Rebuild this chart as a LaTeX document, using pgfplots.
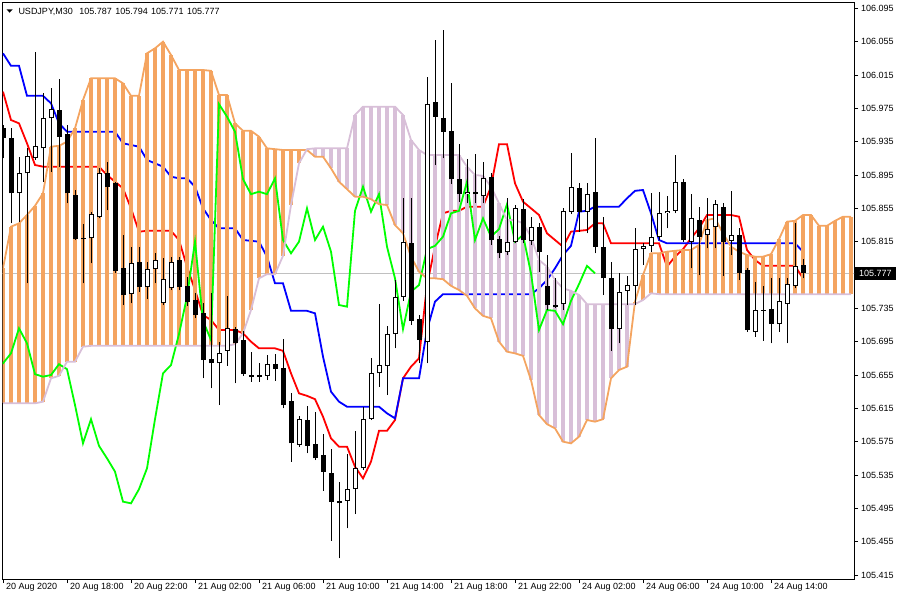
\documentclass[border=0pt]{standalone}
\usepackage{pgfplots}
\pgfplotsset{compat=1.18}
\usepackage{pgfplotstable}
\usepackage{fontspec}
\setmainfont{Liberation Sans}

\definecolor{sandy}{HTML}{F4A460}
\definecolor{thist}{HTML}{D8BFD8}
\definecolor{chikou}{HTML}{00FF00}
\definecolor{tenkan}{HTML}{FF0000}
\definecolor{kijun}{HTML}{0000FF}
\definecolor{pricegray}{HTML}{C0C0C0}

% USDJPY M30 candles, bar index k (0 = 20 Aug 14:00)
\pgfplotstableread{
k o h l c
0 105.951 105.955 105.915 105.939
1 105.939 105.951 105.837 105.873
2 105.873 105.917 105.839 105.897
3 105.897 105.927 105.765 105.918
4 105.915 106.043 105.913 105.930
5 105.927 105.993 105.887 105.963
6 105.963 105.999 105.899 105.974
7 105.973 106.010 105.905 105.941
8 105.944 105.955 105.861 105.873
9 105.871 105.877 105.817 105.818
10 105.819 105.836 105.765 105.818
11 105.819 105.851 105.789 105.848
12 105.845 105.903 105.843 105.897
13 105.897 105.911 105.853 105.881
14 105.885 105.887 105.777 105.780
15 105.783 105.823 105.739 105.751
16 105.752 105.809 105.741 105.789
17 105.791 105.809 105.755 105.761
18 105.761 105.791 105.746 105.782
19 105.782 105.801 105.765 105.793
20 105.741 105.795 105.739 105.770
21 105.759 105.797 105.757 105.791
22 105.793 105.797 105.757 105.761
23 105.762 105.773 105.738 105.743
24 105.745 105.753 105.723 105.727
25 105.729 105.741 105.651 105.673
26 105.674 105.753 105.639 105.669
27 105.669 105.695 105.619 105.681
28 105.684 105.750 105.666 105.711
29 105.710 105.713 105.645 105.693
30 105.697 105.708 105.654 105.656
31 105.655 105.683 105.647 105.653
32 105.653 105.669 105.647 105.655
33 105.654 105.679 105.649 105.668
34 105.668 105.680 105.648 105.662
35 105.663 105.698 105.615 105.619
36 105.624 105.633 105.551 105.573
37 105.571 105.606 105.569 105.602
38 105.601 105.618 105.561 105.570
39 105.572 105.611 105.553 105.555
40 105.559 105.584 105.516 105.539
41 105.537 105.566 105.456 105.503
42 105.504 105.527 105.435 105.501
43 105.504 105.560 105.471 105.518
44 105.518 105.588 105.488 105.543
45 105.543 105.617 105.541 105.602
46 105.602 105.675 105.601 105.657
47 105.657 105.740 105.641 105.667
48 105.666 105.714 105.631 105.704
49 105.704 105.769 105.687 105.749
50 105.749 105.867 105.744 105.815
51 105.813 105.867 105.715 105.720
52 105.722 105.727 105.669 105.697
53 105.695 106.013 105.669 105.980
54 105.983 106.057 105.907 105.965
55 105.963 106.069 105.915 105.947
56 105.948 106.005 105.884 105.890
57 105.890 105.932 105.863 105.872
58 105.872 105.914 105.861 105.875
59 105.875 105.920 105.861 105.872
60 105.870 105.911 105.861 105.891
61 105.893 105.897 105.811 105.817
62 105.818 105.822 105.795 105.801
63 105.803 105.867 105.799 105.815
64 105.815 105.859 105.813 105.855
65 105.854 105.866 105.813 105.817
66 105.816 105.845 105.811 105.833
67 105.833 105.837 105.779 105.803
68 105.762 105.799 105.733 105.739
69 105.739 105.771 105.735 105.737
70 105.740 105.855 105.733 105.852
71 105.851 105.921 105.848 105.881
72 105.879 105.885 105.827 105.851
73 105.851 105.885 105.825 105.872
74 105.875 105.939 105.801 105.809
75 105.809 105.845 105.751 105.771
76 105.771 105.791 105.684 105.710
77 105.710 105.777 105.693 105.755
78 105.756 105.774 105.739 105.763
79 105.762 105.831 105.739 105.806
80 105.806 105.813 105.787 105.810
81 105.810 105.873 105.803 105.821
82 105.821 105.875 105.817 105.849
83 105.849 105.870 105.831 105.852
84 105.852 105.919 105.849 105.887
85 105.887 105.890 105.815 105.817
86 105.815 105.872 105.783 105.843
87 105.841 105.857 105.775 105.821
88 105.823 105.867 105.807 105.830
89 105.833 105.865 105.807 105.860
90 105.857 105.861 105.774 105.815
91 105.816 105.876 105.799 105.823
92 105.823 105.831 105.769 105.777
93 105.781 105.783 105.707 105.709
94 105.707 105.767 105.701 105.733
95 105.733 105.762 105.696 105.732
96 105.734 105.771 105.693 105.716
97 105.716 105.771 105.707 105.744
98 105.740 105.771 105.693 105.764
99 105.762 105.837 105.759 105.786
100 105.787 105.794 105.771 105.777
}\candles

% tenkan-sen (t) and kijun-sen (j)
\pgfplotstableread{
k t j
0 105.995 106.041
1 105.961 106.026
2 105.957 106.026
3 105.933 105.990
4 105.907 105.990
5 105.905 105.990
6 105.905 105.981
7 105.905 105.957
8 105.905 105.947
9 105.905 105.947
10 105.905 105.947
11 105.905 105.947
12 105.905 105.947
13 105.895 105.947
14 105.887 105.947
15 105.879 105.933
16 105.855 105.931
17 105.827 105.929
18 105.828 105.913
19 105.828 105.909
20 105.828 105.905
21 105.828 105.893
22 105.817 105.891
23 105.785 105.891
24 105.757 105.881
25 105.727 105.855
26 105.721 105.841
27 105.709 105.831
28 105.709 105.831
29 105.709 105.831
30 105.705 105.817
31 105.695 105.816
32 105.687 105.815
33 105.687 105.797
34 105.687 105.765
35 105.684 105.765
36 105.657 105.732
37 105.633 105.732
38 105.630 105.732
39 105.626 105.729
40 105.605 105.677
41 105.579 105.635
42 105.569 105.623
43 105.569 105.617
44 105.545 105.617
45 105.531 105.617
46 105.551 105.617
47 105.588 105.617
48 105.588 105.609
49 105.601 105.603
50 105.651 105.651
51 105.665 105.651
52 105.675 105.651
53 105.763 105.709
54 105.809 105.743
55 105.849 105.752
56 105.852 105.752
57 105.852 105.752
58 105.857 105.752
59 105.857 105.752
60 105.857 105.752
61 105.881 105.752
62 105.932 105.752
63 105.932 105.752
64 105.885 105.752
65 105.863 105.752
66 105.855 105.752
67 105.847 105.759
68 105.825 105.769
69 105.817 105.783
70 105.809 105.799
71 105.827 105.810
72 105.828 105.851
73 105.829 105.852
74 105.837 105.857
75 105.837 105.857
76 105.813 105.857
77 105.813 105.857
78 105.813 105.867
79 105.813 105.876
80 105.813 105.877
81 105.813 105.849
82 105.813 105.817
83 105.785 105.813
84 105.797 105.813
85 105.806 105.813
86 105.819 105.813
87 105.831 105.813
88 105.847 105.813
89 105.847 105.813
90 105.847 105.813
91 105.847 105.813
92 105.845 105.813
93 105.805 105.813
94 105.793 105.813
95 105.786 105.813
96 105.786 105.813
97 105.786 105.813
98 105.786 105.813
99 105.786 105.813
100 105.771 105.803
}\lines

% senkou span A (a) and B (b), already shifted 26 bars ahead
\pgfplotstableread{
k a b
0 105.783 105.621
1 105.833 105.621
2 105.837 105.621
3 105.847 105.621
4 105.858 105.621
5 105.873 105.623
6 105.929 105.651
7 105.930 105.654
8 105.935 105.671
9 105.951 105.671
10 105.985 105.689
11 106.011 105.690
12 106.011 105.690
13 106.011 105.690
14 106.011 105.690
15 106.005 105.690
16 105.990 105.690
17 105.990 105.690
18 106.041 105.690
19 106.047 105.690
20 106.055 105.690
21 106.039 105.690
22 106.021 105.690
23 106.021 105.690
24 106.021 105.690
25 106.021 105.690
26 106.020 105.690
27 105.991 105.690
28 105.991 105.690
29 105.957 105.692
30 105.948 105.705
31 105.948 105.733
32 105.941 105.771
33 105.927 105.776
34 105.926 105.776
35 105.925 105.798
36 105.925 105.859
37 105.925 105.909
38 105.925 105.926
39 105.917 105.927
40 105.917 105.927
41 105.903 105.927
42 105.887 105.927
43 105.878 105.927
44 105.869 105.967
45 105.869 105.977
46 105.866 105.977
47 105.860 105.977
48 105.859 105.977
49 105.835 105.977
50 105.825 105.967
51 105.797 105.937
52 105.779 105.925
53 105.771 105.919
54 105.771 105.919
55 105.770 105.919
56 105.762 105.919
57 105.757 105.919
58 105.750 105.905
59 105.735 105.895
60 105.726 105.894
61 105.723 105.881
62 105.695 105.861
63 105.683 105.841
64 105.681 105.841
65 105.678 105.837
66 105.649 105.821
67 105.607 105.793
68 105.596 105.785
69 105.591 105.769
70 105.575 105.759
71 105.573 105.756
72 105.581 105.751
73 105.601 105.740
74 105.599 105.740
75 105.602 105.740
76 105.651 105.740
77 105.661 105.740
78 105.665 105.740
79 105.743 105.740
80 105.775 105.745
81 105.801 105.753
82 105.801 105.752
83 105.803 105.752
84 105.804 105.752
85 105.805 105.752
86 105.805 105.752
87 105.811 105.752
88 105.841 105.752
89 105.843 105.752
90 105.825 105.752
91 105.809 105.752
92 105.803 105.752
93 105.799 105.752
94 105.797 105.752
95 105.797 105.752
96 105.800 105.752
97 105.818 105.752
98 105.839 105.752
99 105.840 105.752
100 105.847 105.752
101 105.847 105.752
102 105.834 105.752
103 105.834 105.752
104 105.840 105.752
105 105.845 105.752
106 105.845 105.752
}\cloud

\begin{document}
\begin{tikzpicture}
\useasboundingbox (0,0) rectangle (900pt,-600pt);
\begin{axis}[
  at={(2.5pt,-2.5pt)}, anchor=north west,
  scale only axis, width=851.5pt, height=576.5pt,
  xmin=-0.0625, xmax=106.375, ymin=105.4102, ymax=106.102,
  axis line style={black, line width=1pt},
  tick align=outside, major tick length=4pt,
  tick style={black, line width=1pt},
  xtick pos=bottom, ytick pos=right, yticklabel pos=right,
  xtick={0,8,...,96},
  xticklabels={20 Aug 2020, 20 Aug 18:00, 20 Aug 22:00, 21 Aug 02:00, 21 Aug 06:00, 21 Aug 10:00, 21 Aug 14:00, 21 Aug 18:00, 21 Aug 22:00, 24 Aug 02:00, 24 Aug 06:00, 24 Aug 10:00, 24 Aug 14:00},
  ytick={105.415,105.455,105.495,105.535,105.575,105.615,105.655,105.695,105.735,105.815,105.855,105.895,105.935,105.975,106.015,106.055,106.095},
  yticklabels={105.415,105.455,105.495,105.535,105.575,105.615,105.655,105.695,105.735,105.815,105.855,105.895,105.935,105.975,106.015,106.055,106.095},
  tick label style={font=\fontsize{9}{11}\selectfont, text=black},
  xticklabel style={anchor=north west, inner sep=0pt, xshift=3pt},
  yticklabel style={anchor=west, inner sep=0pt, xshift=3pt},
  clip mode=individual,
]
% current price line
\addplot[pricegray, line width=1pt] coordinates {(-1,105.777) (107,105.777)};

% tenkan and kijun
\addplot[tenkan, line width=1.8pt] table[x=k, y=t] {\lines};
\addplot[kijun, line width=1.8pt] table[x=k, y=j] {\lines};

% cloud stripes
\addplot[draw=none, mark=none,
  restrict expr to domain={\thisrow{a}-\thisrow{b}}{0:1},
  error bars/.cd, y dir=plus, y explicit, error mark=none,
  error bar style={draw=sandy, line width=3.7pt}]
  table[x=k, y=b, y error plus expr=\thisrow{a}-\thisrow{b}] {\cloud};
\addplot[draw=none, mark=none,
  restrict expr to domain={\thisrow{b}-\thisrow{a}}{0:1},
  error bars/.cd, y dir=plus, y explicit, error mark=none,
  error bar style={draw=thist, line width=3.7pt}]
  table[x=k, y=a, y error plus expr=\thisrow{b}-\thisrow{a}] {\cloud};

% chikou span = close shifted 26 bars back
\addplot[chikou, line width=1.8pt] table[x expr=\thisrow{k}-26, y=c] {\candles};

% senkou span lines
\addplot[sandy, line width=1.8pt] table[x=k, y=a] {\cloud};
\addplot[thist, line width=1.8pt] table[x=k, y=b] {\cloud};

% wicks
\addplot[draw=none, mark=none,
  error bars/.cd, y dir=plus, y explicit, error mark=none,
  error bar style={draw=black, line width=1pt}]
  table[x=k, y=l, y error plus expr=\thisrow{h}-\thisrow{l}] {\candles};
% bear bodies
\addplot[draw=none, mark=none,
  restrict expr to domain={\thisrow{o}-\thisrow{c}}{0:1},
  error bars/.cd, y dir=plus, y explicit, error mark=none,
  error bar style={draw=black, line width=5pt}]
  table[x=k, y=c, y error plus expr=\thisrow{o}-\thisrow{c}] {\candles};
% bull bodies: outline then white fill
\addplot[draw=none, mark=none,
  restrict expr to domain={\thisrow{c}-\thisrow{o}}{0:1},
  error bars/.cd, y dir=plus, y explicit, error mark=none,
  error bar style={draw=black, line width=5pt}]
  table[x=k, y=o, y error plus expr=\thisrow{c}-\thisrow{o}] {\candles};
\addplot[draw=none, mark=none,
  restrict expr to domain={\thisrow{c}-\thisrow{o}}{0.0024:1},
  error bars/.cd, y dir=plus, y explicit, error mark=none,
  error bar style={draw=white, line width=3pt}]
  table[x=k, y expr=\thisrow{o}+0.0012, y error plus expr=\thisrow{c}-\thisrow{o}-0.0024] {\candles};

\node[fill=black, text=white, anchor=west, xshift=1pt, inner xsep=4pt, inner ysep=0pt,
  minimum height=13pt, font=\fontsize{9}{11}\selectfont] at (axis cs:106.375,105.777) {105.777};
\end{axis}
\fill (6.5pt,-9.3pt) -- (12.7pt,-9.3pt) -- (9.6pt,-12.7pt) -- cycle;
\node[anchor=base west, inner sep=0pt, font=\fontsize{9}{11}\selectfont] at (18.3pt,-14pt)
  {USDJPY,M30\hspace{6.5pt}105.787\hspace{3.4pt}105.794\hspace{3.4pt}105.771\hspace{3.4pt}105.777};
\end{tikzpicture}
\end{document}
